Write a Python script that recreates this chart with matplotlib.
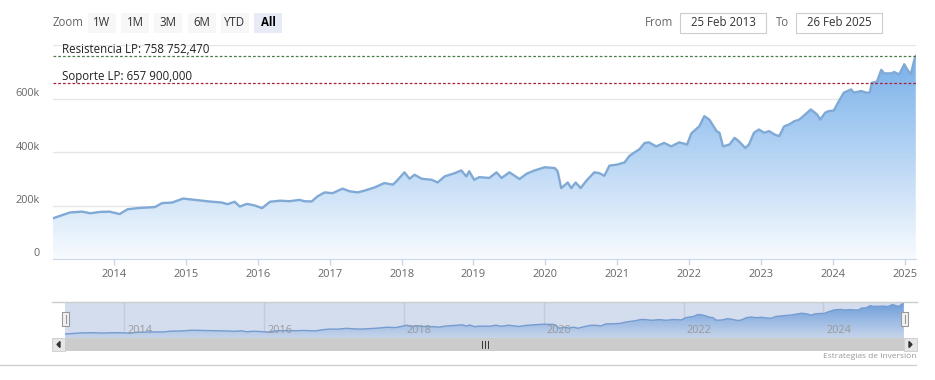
import matplotlib
matplotlib.use('Agg')
import matplotlib.pyplot as plt
from matplotlib.patches import Rectangle, Polygon
from matplotlib.lines import Line2D
from matplotlib.colors import LinearSegmentedColormap
import numpy as np

plt.rcParams['font.family'] = ['Open Sans', 'DejaVu Sans']

# data (x as decimal year, y in units)
years = [2013.15, 2013.25, 2013.39, 2013.56, 2013.67, 2013.81, 2013.94, 2014.08, 2014.19, 2014.36,
         2014.57, 2014.67, 2014.81, 2014.96, 2015.13, 2015.33, 2015.50, 2015.58, 2015.68, 2015.75,
         2015.85, 2015.96, 2016.06, 2016.17, 2016.31, 2016.44, 2016.58, 2016.65, 2016.75, 2016.83,
         2016.93, 2017.04, 2017.18, 2017.28, 2017.39, 2017.49, 2017.63, 2017.76, 2017.88, 2017.94,
         2018.04, 2018.11, 2018.18, 2018.28, 2018.42, 2018.50, 2018.60, 2018.74, 2018.83, 2018.90,
         2018.94, 2019.01, 2019.08, 2019.22, 2019.32, 2019.39, 2019.50, 2019.64, 2019.74, 2019.85,
         2019.99, 2020.13, 2020.17, 2020.22, 2020.31, 2020.36, 2020.42, 2020.49, 2020.58, 2020.68,
         2020.75, 2020.82, 2020.89, 2021.00, 2021.10, 2021.17, 2021.31, 2021.38, 2021.44, 2021.54,
         2021.65, 2021.75, 2021.86, 2021.97, 2022.03, 2022.14, 2022.21, 2022.28, 2022.38, 2022.42,
         2022.47, 2022.56, 2022.63, 2022.69, 2022.78, 2022.83, 2022.90, 2022.97, 2023.04, 2023.11,
         2023.19, 2023.25, 2023.32, 2023.39, 2023.46, 2023.53, 2023.64, 2023.69, 2023.78, 2023.82,
         2023.89, 2023.94, 2024.01, 2024.08, 2024.15, 2024.25, 2024.29, 2024.39, 2024.46, 2024.51,
         2024.54, 2024.61, 2024.67, 2024.71, 2024.81, 2024.85, 2024.92, 2024.99, 2025.03, 2025.08,
         2025.13, 2025.15]
values = [152, 161, 174, 177, 171, 176, 177, 168, 186, 191,
          194, 209, 211, 226, 221, 215, 211, 205, 214, 196,
          206, 200, 190, 214, 218, 216, 221, 216, 215, 234,
          249, 246, 263, 253, 249, 256, 268, 284, 278, 294,
          324, 300, 315, 300, 296, 286, 309, 321, 331, 309,
          328, 296, 306, 303, 324, 303, 324, 299, 319, 331,
          343, 340, 328, 265, 286, 265, 286, 265, 296, 324,
          321, 311, 349, 353, 361, 386, 411, 434, 436, 421,
          434, 421, 436, 428, 470, 496, 534, 521, 478, 472,
          421, 428, 453, 440, 415, 428, 472, 484, 472, 478,
          465, 459, 496, 503, 515, 521, 547, 559, 540, 521,
          547, 553, 555, 590, 622, 634, 622, 628, 622, 622,
          659, 663, 707, 694, 694, 699, 690, 728, 709, 690,
          745, 758.75]
values = [v * 1000 for v in values]

resistance = 758752.470
support = 657900.000
date_from = '25 Feb 2013'
date_to = '26 Feb 2025'
x_start, x_end = 2013.153, 2025.153
x_ticks = list(range(2014, 2026))
y_ticks = [0, 200000, 400000, 600000, 800000]
y_labels = ['0', '200k', '400k', '600k', '']
nav_ticks = [2014, 2016, 2018, 2020, 2022, 2024]
zoom_buttons = ['1W', '1M', '3M', '6M', 'YTD', 'All']

W, H = 935, 380
fig = plt.figure(figsize=(W / 100, H / 100), dpi=100)


def box(x0, y0, x1, y1):
    # pixel box (top-left origin) -> figure fraction rect
    return [x0 / W, 1 - y1 / H, (x1 - x0) / W, (y1 - y0) / H]


def fx(x):
    return x / W


def fy(y):
    return 1 - y / H


def es_num(v):
    return f"{v:,.3f}".replace(',', ' ').replace('.', ',')


def gradient_area(ax, xs, ys, c_low, c_high, top):
    cmap = LinearSegmentedColormap.from_list('area', [c_low, c_high])
    grad = np.linspace(0, 1, 256).reshape(-1, 1)
    lo = ax.get_ylim()[0]
    im = ax.imshow(grad, extent=[xs[0], xs[-1], lo, top], origin='lower',
                   aspect='auto', cmap=cmap, zorder=1)
    poly = ax.fill_between(xs, ys, lo, color='none', lw=0)
    im.set_clip_path(poly.get_paths()[0], transform=ax.transData)


# ---- main chart
ax = fig.add_axes(box(53, 45, 916, 259))
ax.set_xlim(x_start, x_end)
ax.set_ylim(0, 800000)
gradient_area(ax, years, values, '#f8fbfe', '#78b0ea', max(values))
ax.plot(years, values, color='#80aad5', lw=1.7, zorder=3)
ax.set_xlim(x_start, x_end)
ax.set_ylim(0, 800000)

for v in y_ticks[1:]:
    ax.axhline(v, color='#e6e6e6', lw=1, zorder=0)
for v, lab in zip(y_ticks, y_labels):
    ax.annotate(lab, xy=(0, v), xycoords=('axes fraction', 'data'),
                xytext=(-13, 5), textcoords='offset pixels',
                ha='right', va='center', fontsize=7.8, color='#666666')

ax.set_yticks([])
ax.set_xticks(x_ticks)
ax.set_xticklabels([str(t) for t in x_ticks])
ax.tick_params(axis='x', length=4, width=1, color='#ccd6eb', pad=3,
               labelsize=7.9, labelcolor='#666666')
for s in ['top', 'left', 'right']:
    ax.spines[s].set_visible(False)
ax.spines['bottom'].set_color('#ccd6eb')

ax.axhline(resistance, color='#4a7d4a', lw=0.9, ls=(0, (2.2, 1.6)), zorder=4)
ax.axhline(support, color='#a8203c', lw=0.9, ls=(0, (2.2, 1.6)), zorder=4)
ax.annotate(f"Resistencia LP: {es_num(resistance)}", xy=(0, resistance),
            xycoords=('axes fraction', 'data'), xytext=(9, 3),
            textcoords='offset pixels', va='baseline', fontsize=8.3, color='#222222')
ax.annotate(f"Soporte LP: {es_num(support)}", xy=(0, support),
            xycoords=('axes fraction', 'data'), xytext=(9, 3),
            textcoords='offset pixels', va='baseline', fontsize=8.3, color='#222222')

# ---- navigator
nav = fig.add_axes(box(65, 302, 904, 338))
nav.set_xlim(x_start, x_end)
nav.set_ylim(74000, 778000)
gradient_area(nav, years, values, '#eef4fb', '#6ea6e4', max(values))
nav.plot(years, values, color='#7aa6d6', lw=1, zorder=3)
nav.set_xlim(x_start, x_end)
nav.set_ylim(74000, 778000)
for t in nav_ticks:
    nav.axvline(t, color='#e6e6e6', lw=1, zorder=0.5)
    nav.annotate(str(t), xy=(t, 0.22), xycoords=('data', 'axes fraction'),
                 xytext=(3, 0), textcoords='offset pixels', ha='left', va='center',
                 fontsize=7.8, color='#999999', zorder=6)
nav.add_patch(Rectangle((0, 0), 1, 1, transform=nav.transAxes,
                        facecolor=(102 / 255, 133 / 255, 194 / 255, 0.28), lw=0, zorder=5))
nav.set_xticks([])
nav.set_yticks([])
for s in nav.spines.values():
    s.set_visible(False)

# navigator outline and handles
fig.add_artist(Line2D([fx(52), fx(917)], [fy(302), fy(302)], color='#cccccc', lw=1))
for hx in (62, 901):
    fig.add_artist(Rectangle((fx(hx), fy(326)), 7 / W, 14 / H, facecolor='#f2f2f2',
                             edgecolor='#999999', lw=0.8, zorder=7))
    fig.add_artist(Line2D([fx(hx + 3.5), fx(hx + 3.5)], [fy(323), fy(315)],
                          color='#999999', lw=0.8, zorder=8))

# scrollbar
fig.add_artist(Rectangle((fx(52), fy(351)), 865 / W, 13 / H, facecolor='#f2f2f2',
                         edgecolor='#f2f2f2', lw=0))
fig.add_artist(Rectangle((fx(65), fy(351)), 839 / W, 13 / H, facecolor='#cccccc',
                         edgecolor='#cccccc', lw=0))
for bx in (52, 904):
    fig.add_artist(Rectangle((fx(bx), fy(351)), 13 / W, 13 / H, facecolor='#e6e6e6',
                             edgecolor='#cccccc', lw=0.6))
fig.add_artist(Polygon([[fx(60), fy(341.5)], [fx(60), fy(347.5)], [fx(57), fy(344.5)]],
                       closed=True, color='#333333'))
fig.add_artist(Polygon([[fx(909), fy(341.5)], [fx(909), fy(347.5)], [fx(912), fy(344.5)]],
                       closed=True, color='#333333'))
for rx in (482.5, 485, 487.5):
    fig.add_artist(Line2D([fx(rx), fx(rx)], [fy(341), fy(348)], color='#333333', lw=0.7))

fig.text(fx(916), fy(357), 'Estrategias de Inversión', ha='right', va='center',
         fontsize=6, color='#999999')
fig.add_artist(Line2D([0, fx(916)], [fy(364.5), fy(364.5)], color='#d0d0d0', lw=1))

# ---- range selector
fig.text(fx(53), fy(22), 'Zoom', ha='left', va='center', fontsize=8.3, color='#666666')
for i, lab in enumerate(zoom_buttons):
    x0 = 88 + i * 33.2
    selected = lab == 'All'
    fig.add_artist(Rectangle((fx(x0), fy(33)), 28 / W, 20 / H, lw=0,
                             facecolor='#e6ebf5' if selected else '#f7f7f7'))
    fig.text(fx(x0 + 14), fy(22), lab, ha='center', va='center', fontsize=8.3,
             color='#000000' if selected else '#333333',
             fontweight='bold' if selected else 'normal')

fig.text(fx(673), fy(22), 'From', ha='right', va='center', fontsize=8.3, color='#666666')
fig.add_artist(Rectangle((fx(680), fy(33)), 86 / W, 20 / H, facecolor='white',
                         edgecolor='#cccccc', lw=0.8))
fig.text(fx(723), fy(22), date_from, ha='center', va='center', fontsize=8.3, color='#333333')
fig.text(fx(776), fy(22), 'To', ha='left', va='center', fontsize=8.3, color='#666666')
fig.add_artist(Rectangle((fx(796), fy(33)), 86 / W, 20 / H, facecolor='white',
                         edgecolor='#cccccc', lw=0.8))
fig.text(fx(839), fy(22), date_to, ha='center', va='center', fontsize=8.3, color='#333333')

fig.savefig('out.png', dpi=100)
